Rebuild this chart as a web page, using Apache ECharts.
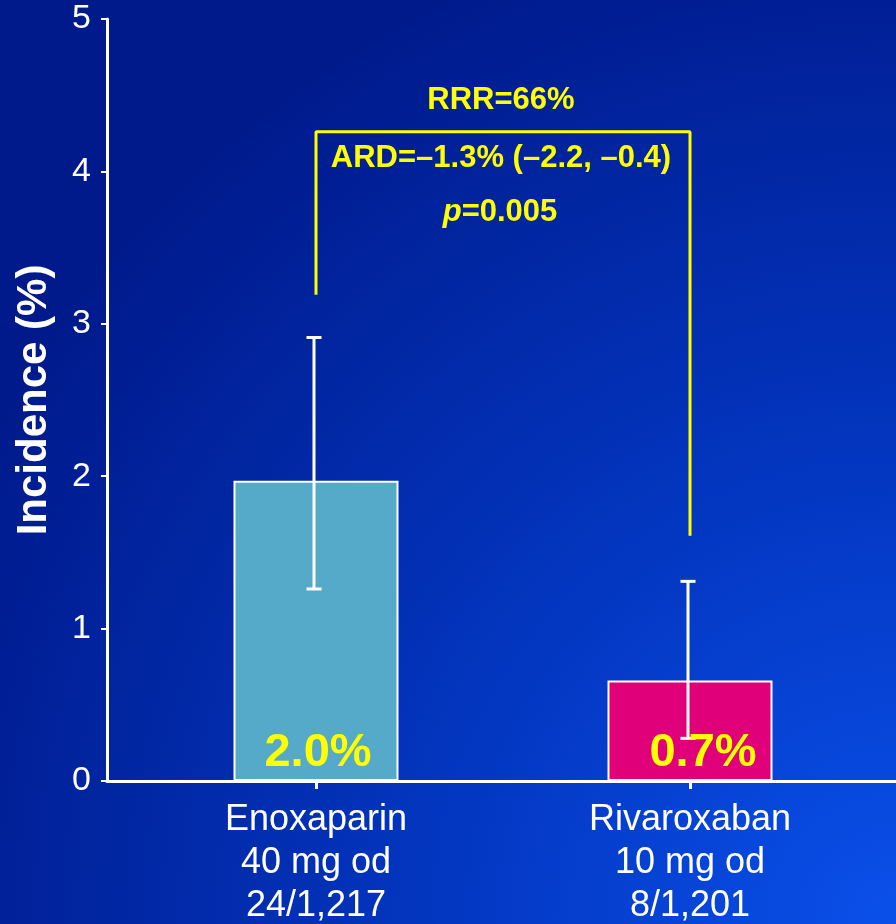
<!DOCTYPE html>
<html>
<head>
<meta charset="utf-8">
<script src="https://cdn.jsdelivr.net/npm/echarts@6/dist/echarts.min.js"></script>
<style>
html,body{margin:0;padding:0;background:#001a8c;}
#chart{width:896px;height:924px;}
</style>
</head>
<body>
<div id="chart"></div>
<script>
// ---- data ----
const categories = ['Enoxaparin\n40 mg od\n24/1,217', 'Rivaroxaban\n10 mg od\n8/1,201'];
const incidence = [1.97, 0.66];
const ciLow = [1.26, 0.28];
const ciHigh = [2.91, 1.31];
const valueLabels = ['2.0%', '0.7%'];
const yTicks = [0, 1, 2, 3, 4, 5];
const bracketPoints = [[0, 3.19], [0, 4.26], [1, 4.26], [1, 1.61]];
const annotationLines = ['RRR=66%', 'ARD=\u20131.3% (\u20132.2, \u20130.4)', 'p=0.005'];

// ---- styles ----
const barColors = ['#54aac8', '#e0007a'];
const labelShift = [2, 13];
const FONT = '"Liberation Sans", Arial, sans-serif';
const YELLOW = '#ffff00';

const chart = echarts.init(document.getElementById('chart'));

const errData = incidence.map((v, i) => [i, ciLow[i], ciHigh[i]]);

const option = {
  animation: false,
  backgroundColor: new echarts.graphic.RadialGradient(1, 1, 1.15, [
    {offset: 0, color: '#0a50ea'},
    {offset: 0.45, color: '#0336c0'},
    {offset: 1, color: '#001a8c'}
  ]),
  textStyle: {fontFamily: FONT},
  grid: [
    {left: 129, right: 19, top: 19, bottom: 143, outerBoundsMode: 'none', containLabel: false},
    {left: 107, right: 0, top: 19, bottom: 143, outerBoundsMode: 'none', containLabel: false}
  ],
  xAxis: [
    {
      type: 'category', gridIndex: 0, data: categories,
      axisLine: {show: false},
      axisTick: {show: true, alignWithLabel: true, length: 8, lineStyle: {color: '#fff', width: 3}},
      axisLabel: {color: '#fff', fontSize: 36, lineHeight: 43, margin: 18, fontFamily: FONT},
      splitLine: {show: false}
    },
    {
      type: 'value', gridIndex: 1, min: 0, max: 1, z: 10,
      axisLine: {show: true, lineStyle: {color: '#fff', width: 3}},
      axisTick: {show: false}, axisLabel: {show: false}, splitLine: {show: false}
    }
  ],
  yAxis: [
    {
      type: 'value', gridIndex: 0, min: yTicks[0], max: yTicks[yTicks.length - 1], interval: 1,
      offset: 22,
      axisLine: {show: true, lineStyle: {color: '#fff', width: 3}},
      axisTick: {show: true, length: 6, lineStyle: {color: '#fff', width: 2}},
      axisLabel: {color: '#fff', fontSize: 34, margin: 16, fontFamily: FONT},
      splitLine: {show: false},
      name: 'Incidence (%)', nameLocation: 'middle', nameGap: 52, nameRotate: 90,
      nameTextStyle: {color: '#fff', fontSize: 42, fontWeight: 'bold', fontFamily: FONT}
    },
    {type: 'value', gridIndex: 1, min: 0, max: 5, show: false}
  ],
  series: [
    {
      type: 'bar', xAxisIndex: 0, yAxisIndex: 0, barWidth: 165, z: 2,
      data: incidence.map((v, i) => ({value: v, itemStyle: {color: barColors[i]}})),
      itemStyle: {borderColor: '#fff', borderWidth: 2}
    },
    {
      type: 'custom', xAxisIndex: 0, yAxisIndex: 0, z: 5,
      data: errData,
      renderItem: function (params, api) {
        const i = api.value(0);
        const top = api.coord([i, api.value(2)]);
        const bot = api.coord([i, api.value(1)]);
        const base = api.coord([i, 0]);
        const cx = top[0] - 2;
        const cap = 7.5;
        const st = {stroke: '#fff', lineWidth: 3};
        return {
          type: 'group',
          children: [
            {type: 'line', shape: {x1: cx, y1: top[1], x2: cx, y2: bot[1]}, style: st},
            {type: 'line', shape: {x1: cx - cap, y1: top[1], x2: cx + cap, y2: top[1]}, style: st},
            {type: 'line', shape: {x1: cx - cap, y1: bot[1], x2: cx + cap, y2: bot[1]}, style: st},
            {
              type: 'text', z2: 10,
              style: {
                text: valueLabels[i], x: base[0] + labelShift[i], y: base[1] - 4,
                align: 'center', verticalAlign: 'bottom',
                fill: YELLOW, font: 'bold 47px ' + FONT
              }
            }
          ]
        };
      }
    },
    {
      type: 'line', xAxisIndex: 0, yAxisIndex: 0, z: 4,
      data: bracketPoints, symbol: 'none',
      lineStyle: {color: YELLOW, width: 3}
    }
  ],
  graphic: [
    {
      type: 'text', x: 501, y: 100,
      style: {text: annotationLines[0], align: 'center', verticalAlign: 'middle', fill: YELLOW, font: 'bold 31px ' + FONT}
    },
    {
      type: 'text', x: 501, y: 158,
      style: {text: annotationLines[1], align: 'center', verticalAlign: 'middle', fill: YELLOW, font: 'bold 31px ' + FONT}
    },
    {
      type: 'text', x: 500, y: 212,
      style: {
        text: '{i|' + annotationLines[2].slice(0, 1) + '}{b|' + annotationLines[2].slice(1) + '}',
        align: 'center', verticalAlign: 'middle', fill: YELLOW, font: 'bold 31px ' + FONT,
        rich: {
          i: {fill: YELLOW, font: 'italic bold 31px ' + FONT},
          b: {fill: YELLOW, font: 'bold 31px ' + FONT}
        }
      }
    }
  ]
};
chart.setOption(option);
</script>
</body>
</html>
